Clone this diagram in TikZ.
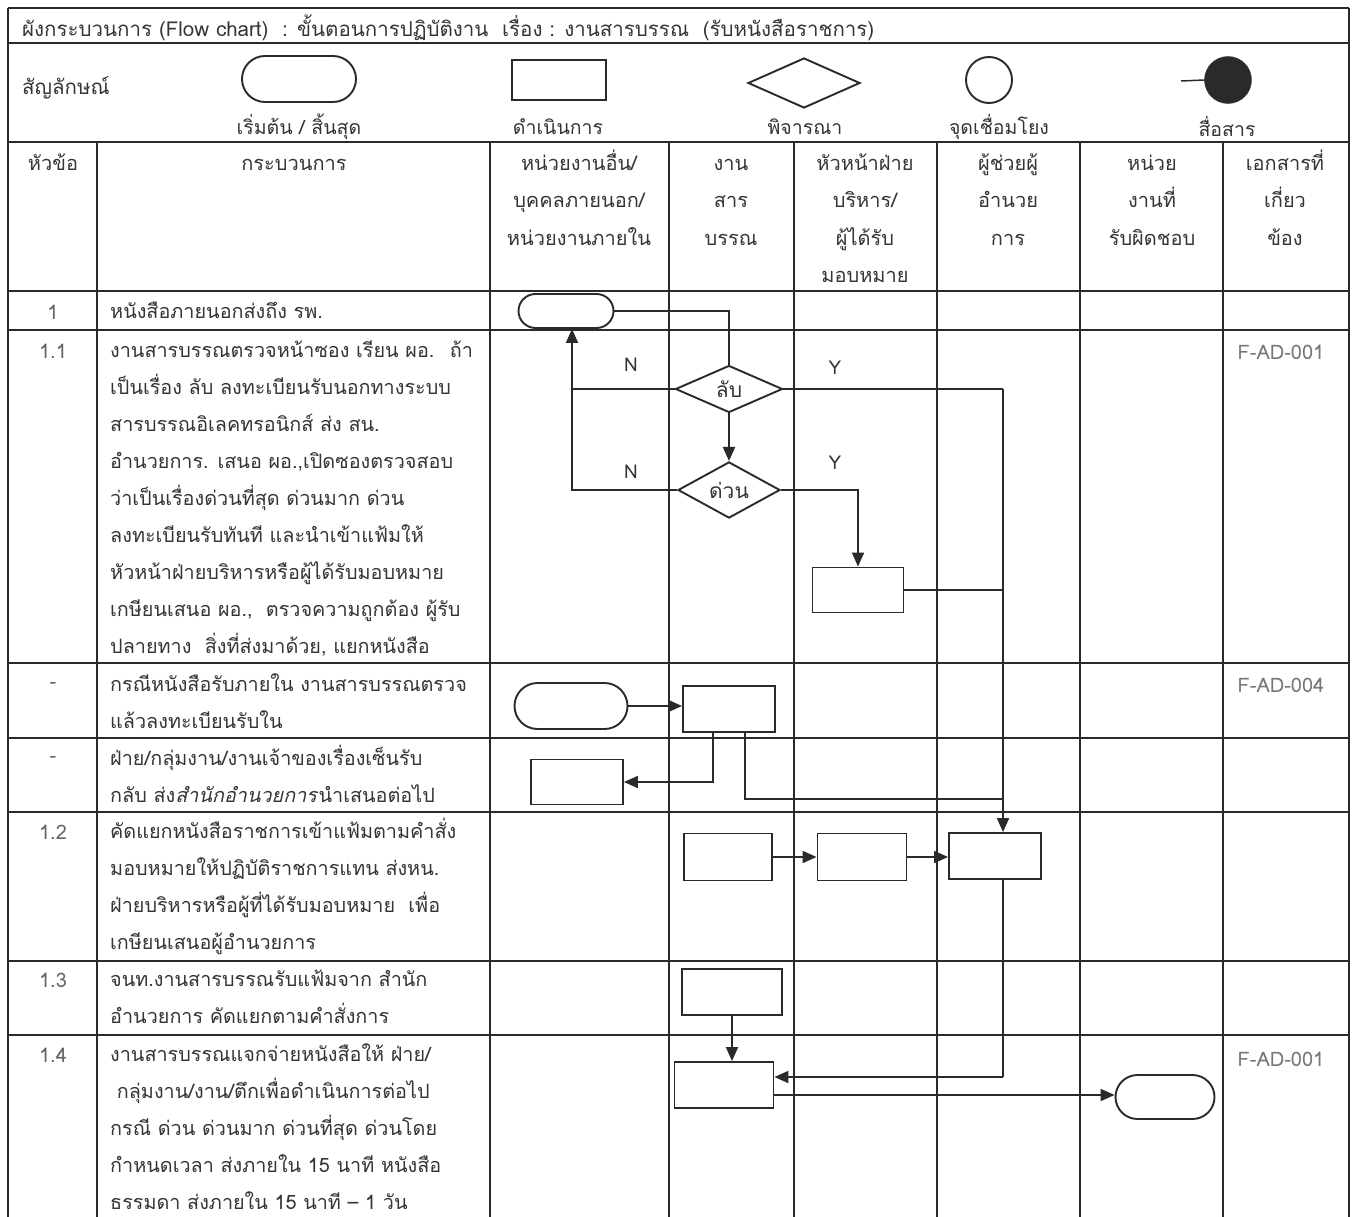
\documentclass[tikz,border=0pt]{standalone}
\usepackage{fontspec}
\setmainfont[Script=Thai]{Loma}
\usetikzlibrary{arrows.meta,shapes.geometric,calc}
\definecolor{ink}{HTML}{2A2A2A}
\definecolor{txt}{HTML}{353535}
\definecolor{numc}{HTML}{666666}
\definecolor{docc}{HTML}{777777}
\newcommand{\bodyfnt}{\fontsize{19.8}{37}\selectfont}
\newcommand{\headfnt}{\fontsize{20}{37.5}\selectfont}
\tikzset{
  grid/.style={draw=ink, line width=1.3pt},
  flow/.style={draw=ink, line width=1.9pt},
  arr/.style={flow, -{Triangle[length=14pt,width=12pt]}},
  procbox/.style={draw=ink, line width=1.9pt, rectangle, inner sep=0pt},
  termbox/.style={draw=ink, line width=1.9pt, rectangle, rounded corners=17pt, inner sep=0pt},
  decbox/.style={draw=ink, line width=1.9pt, diamond, inner sep=0pt, font=\fontsize{21}{22}\selectfont, text=txt},
  para/.style={anchor=north west, inner sep=0pt, align=left, font=\bodyfnt, text=txt},
  headc/.style={anchor=north, inner sep=0pt, align=center, font=\headfnt, text=txt},
  numl/.style={inner sep=0pt, font=\fontsize{20}{21}\selectfont, text=numc},
  docl/.style={inner sep=0pt, font=\fontsize{20}{21}\selectfont, text=docc},
  yn/.style={inner sep=0pt, font=\fontsize{19}{20}\selectfont, text=txt},
  symlab/.style={inner sep=0pt, font=\fontsize{19.5}{20}\selectfont, text=txt},
}
\begin{document}
\begin{tikzpicture}[x=1pt,y=-1pt]
\useasboundingbox (0,0) rectangle (1354,1217);
\fill[white] (0,0) rectangle (1354,1217);

% ---------- grid ----------
\draw[grid] (8,8) -- (1349,8);
\draw[grid] (8,43) -- (1349,43);
\draw[grid] (8,142) -- (1349,142);
\foreach \yy in {291,330,663,738,812,961,1035}
  \draw[grid] (8,\yy) -- (1349,\yy);
\draw[grid] (8,8) -- (8,1217);
\draw[grid] (1349,8) -- (1349,1217);
\foreach \xx in {97,490,669,794,937,1080,1223}
  \draw[grid] (\xx,142) -- (\xx,1217);

% ---------- title ----------
\node[anchor=west, inner sep=0pt, font=\fontsize{20.5}{21}\selectfont, text=txt] (title) at (22,28)
  {ผังกระบวนการ (Flow chart) \ : ขั้นตอนการปฏิบัติงาน \ เรื่อง : งานสารบรรณ \ (รับหนังสือราชการ)};

% ---------- symbol legend ----------
\node[anchor=west, inner sep=0pt, font=\fontsize{20.5}{21}\selectfont, text=txt] (symt) at (22,88) {สัญลักษณ์};
\node[termbox, minimum width=114pt, minimum height=46pt, rounded corners=23pt] (lgterm) at (299,79) {};
\node[procbox, minimum width=94pt, minimum height=40pt] (lgproc) at (559,80) {};
\node[draw=ink, line width=1.9pt, diamond, inner sep=0pt, minimum width=112pt, minimum height=50pt] (lgdec) at (804,83) {};
\node[draw=ink, line width=1.9pt, circle, inner sep=0pt, minimum size=46pt] (lgcon) at (989,80) {};
\node[fill=ink, draw=ink, circle, inner sep=0pt, minimum size=47pt] (lgcom) at (1228,80) {};
\coordinate (lgcomstart) at (1181,81);
\draw[flow, line width=1.5pt] (lgcomstart) -- (lgcom.west);
\node[symlab] (lbterm) at (299,127) {เริ่มต้น / สิ้นสุด};
\node[symlab] (lbproc) at (558,127) {ดำเนินการ};
\node[symlab] (lbdec) at (805,127) {พิจารณา};
\node[symlab] (lbcon) at (999,127) {จุดเชื่อมโยง};
\node[symlab] (lbcom) at (1227,127) {สื่อสาร};

% ---------- column headers ----------
\node[headc] (h1) at (53,144) {\strut หัวข้อ};
\node[headc] (h2) at (294,144) {\strut กระบวนการ};
\node[headc] (h3) at (579,144) {\strut หน่วยงานอื่น/\\บุคคลภายนอก/\\หน่วยงานภายใน};
\node[headc] (h4) at (731,144) {\strut งาน\\สาร\\บรรณ};
\node[headc] (h5) at (865,144) {\strut หัวหน้าฝ่าย\\บริหาร/\\ผู้ได้รับ\\มอบหมาย};
\node[headc] (h6) at (1008,144) {\strut ผู้ช่วยผู้\\อำนวย\\การ};
\node[headc] (h7) at (1152,144) {\strut หน่วย\\งานที่\\รับผิดชอบ};
\node[headc] (h8) at (1285,144) {\strut เอกสารที่\\เกี่ยว\\ข้อง};

% ---------- row numbers ----------
\node[numl] (n1) at (53,312) {1};
\node[numl] (n11) at (53,351) {1.1};
\node[numl] (nd1) at (53,685) {-};
\node[numl] (nd2) at (53,759) {-};
\node[numl] (n12) at (53,832) {1.2};
\node[numl] (n13) at (53,980) {1.3};
\node[numl] (n14) at (53,1055) {1.4};

% ---------- process texts ----------
\node[para] (p1) at (110,292) {\strut หนังสือภายนอกส่งถึง รพ.};
\node[para] (p11) at (110,331) {\strut งานสารบรรณตรวจหน้าซอง เรียน ผอ. \ ถ้า\\
เป็นเรื่อง ลับ ลงทะเบียนรับนอกทางระบบ\\
สารบรรณอิเลคทรอนิกส์ ส่ง สน.\\
อำนวยการ. เสนอ ผอ.,เปิดซองตรวจสอบ\\
ว่าเป็นเรื่องด่วนที่สุด ด่วนมาก ด่วน\\
ลงทะเบียนรับทันที และนำเข้าแฟ้มให้\\
หัวหน้าฝ่ายบริหารหรือผู้ได้รับมอบหมาย\\
เกษียนเสนอ ผอ., \ ตรวจความถูกต้อง ผู้รับ\\
ปลายทาง \ สิ่งที่ส่งมาด้วย, แยกหนังสือ};
\node[para] (pd1) at (110,665) {\strut กรณีหนังสือรับภายใน งานสารบรรณตรวจ\\แล้วลงทะเบียนรับใน};
\node[para] (pd2) at (110,739) {\strut ฝ่าย/กลุ่มงาน/งานเจ้าของเรื่องเซ็นรับ\\กลับ ส่ง\textit{สำนักอำนวยการ}นำเสนอต่อไป};
\node[para] (p12) at (110,812) {\strut คัดแยกหนังสือราชการเข้าแฟ้มตามคำสั่ง\\
มอบหมายให้ปฏิบัติราชการแทน ส่งหน.\\
ฝ่ายบริหารหรือผู้ที่ได้รับมอบหมาย \ เพื่อ\\
เกษียนเสนอผู้อำนวยการ};
\node[para] (p13) at (110,960) {\strut จนท.งานสารบรรณรับแฟ้มจาก สำนัก\\อำนวยการ คัดแยกตามคำสั่งการ};
\node[para] (p14) at (110,1035) {\strut งานสารบรรณแจกจ่ายหนังสือให้ ฝ่าย/\\
\ กลุ่มงาน/งาน/ตึกเพื่อดำเนินการต่อไป\\
กรณี ด่วน ด่วนมาก ด่วนที่สุด ด่วนโดย\\
กำหนดเวลา ส่งภายใน 15 นาที หนังสือ\\
ธรรมดา ส่งภายใน 15 นาที – 1 วัน};

% ---------- documents ----------
\node[docl] (doc1) at (1281,352) {F-AD-001};
\node[docl] (doc2) at (1281,685) {F-AD-004};
\node[docl] (doc3) at (1281,1059) {F-AD-001};

% ---------- flow shapes ----------
\node[termbox, minimum width=95pt, minimum height=34pt] (t1) at (566,311) {};
\node[decbox, minimum width=107pt, minimum height=47pt] (d1) at (729,389) {ลับ};
\node[decbox, minimum width=102pt, minimum height=56pt] (d2) at (729,490) {ด่วน};
\node[procbox, minimum width=91pt, minimum height=45pt] (b1) at (858,590) {};

\node[termbox, minimum width=113pt, minimum height=46pt, rounded corners=23pt] (t2) at (571,706) {};
\node[procbox, minimum width=92pt, minimum height=46pt] (a1) at (729,709) {};
\node[procbox, minimum width=92pt, minimum height=45pt] (b2) at (577,782) {};

\node[procbox, minimum width=88pt, minimum height=47pt] (c1) at (728,857) {};
\node[procbox, minimum width=89pt, minimum height=47pt] (c2) at (862,857) {};
\node[procbox, minimum width=92pt, minimum height=46pt] (c3) at (995,856) {};

\node[procbox, minimum width=100pt, minimum height=46pt] (f1) at (732,992) {};
\node[procbox, minimum width=99pt, minimum height=46pt] (g1) at (724,1085) {};
\node[termbox, minimum width=99pt, minimum height=44pt, rounded corners=22pt] (t3) at (1165,1097) {};

% ---------- labels ----------
\node[yn] (ln1) at (631,365) {N};
\node[yn] (ln2) at (631,472) {N};
\node[yn] (ly1) at (835,368) {Y};
\node[yn] (ly2) at (835,463) {Y};

% ---------- helper coordinates ----------
\coordinate (nx) at (572,490);
\coordinate (vx) at (1003,389);
\coordinate (ax1) at (713,732);
\coordinate (ax2) at (745,732);
\coordinate (gx) at (1003,1077);

% ---------- connectors ----------
\draw[flow] (t1.east) -| (d1.north);
\draw[arr] (d1.south) -- (d2.north);
\draw[flow] (d1.west) -- (d1.west -| nx);
\draw[arr] (d2.west) -- (nx) -- (nx |- t1.south);
\draw[flow] (d1.east) -- (vx);
\draw[arr] (vx) -- (vx |- c3.north);
\draw[arr] (d2.east) -| (b1.north);
\draw[flow] (b1.east) -- (b1.east -| vx);

\draw[arr] (t2.east) -- (t2.east -| a1.west);
\draw[arr] (ax1) |- (b2.east);
\draw[flow] (ax2) |- (vx |- 0,799);

\draw[arr] (c1.east) -- (c1.east -| c2.west);
\draw[arr] (c2.east) -- (c2.east -| c3.west);
\draw[flow] (vx |- c3.south) -- (gx);
\draw[arr] (gx) -- (gx -| g1.east);

\draw[arr] (f1.south) -- (f1.south |- g1.north);
\draw[arr] (g1.east |- 0,1095) -- (t3.west |- 0,1095);
\end{tikzpicture}
\end{document}
